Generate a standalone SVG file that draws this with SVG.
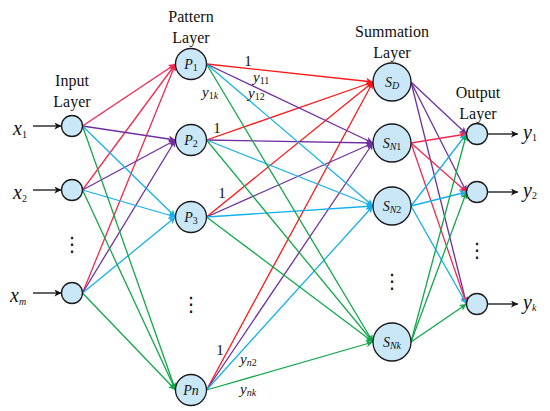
<svg xmlns="http://www.w3.org/2000/svg" width="550" height="411" viewBox="0 0 550 411">
<defs>
<style>
.n{fill:#c9e7f7;stroke:#1a1a1a;stroke-width:1.3}
text{font-family:'Liberation Serif','Times New Roman','DejaVu Serif',serif;fill:#111}
.lay{font-size:16px;text-anchor:middle}
.lab{font-size:14px;font-style:italic;text-anchor:middle}
.sub{font-size:10px;font-style:normal}
.subi{font-size:10px;font-style:italic}
.w{font-size:15px}
.io{font-size:20px;font-style:italic}
text.dots{font-family:'DejaVu Sans',sans-serif;font-size:20px;text-anchor:middle}
.c line{stroke-width:1.3;fill:none}
.pk{stroke:#f2294f}
.rd{stroke:#ff1616}
.pu{stroke:#7030a0}
.cy{stroke:#14b0ec}
.gr{stroke:#12a84a}
.bk{stroke:#111}
</style>
<marker id="mpk" viewBox="0 0 10 10" refX="10" refY="5" markerWidth="9" markerHeight="7" markerUnits="userSpaceOnUse" orient="auto"><path d="M0,0L10,5L0,10L2.5,5z" fill="#f2294f"/></marker>
<marker id="mrd" viewBox="0 0 10 10" refX="10" refY="5" markerWidth="9" markerHeight="7" markerUnits="userSpaceOnUse" orient="auto"><path d="M0,0L10,5L0,10L2.5,5z" fill="#ff1616"/></marker>
<marker id="mpu" viewBox="0 0 10 10" refX="10" refY="5" markerWidth="9" markerHeight="7" markerUnits="userSpaceOnUse" orient="auto"><path d="M0,0L10,5L0,10L2.5,5z" fill="#7030a0"/></marker>
<marker id="mcy" viewBox="0 0 10 10" refX="10" refY="5" markerWidth="9" markerHeight="7" markerUnits="userSpaceOnUse" orient="auto"><path d="M0,0L10,5L0,10L2.5,5z" fill="#14b0ec"/></marker>
<marker id="mgr" viewBox="0 0 10 10" refX="10" refY="5" markerWidth="9" markerHeight="7" markerUnits="userSpaceOnUse" orient="auto"><path d="M0,0L10,5L0,10L2.5,5z" fill="#12a84a"/></marker>
<marker id="mbk" viewBox="0 0 10 10" refX="10" refY="5" markerWidth="10" markerHeight="7" markerUnits="userSpaceOnUse" orient="auto"><path d="M0,0L10,5L0,10L2.5,5z" fill="#111"/></marker>
</defs>
<rect width="550" height="411" fill="#fff"/>

<g id="connectors" class="c">
<line class="bk" x1="33" y1="126" x2="61.5" y2="126" marker-end="url(#mbk)"/>
<line class="bk" x1="33" y1="190" x2="61.5" y2="190" marker-end="url(#mbk)"/>
<line class="bk" x1="33" y1="293" x2="61.5" y2="293" marker-end="url(#mbk)"/>
<line class="pk" x1="82.5" y1="126" x2="175.5" y2="64" marker-end="url(#mpk)"/>
<line class="pk" x1="82.5" y1="190" x2="175.5" y2="64" marker-end="url(#mpk)"/>
<line class="pk" x1="82.5" y1="293" x2="175.5" y2="64" marker-end="url(#mpk)"/>
<line class="pu" x1="82.5" y1="126" x2="175.5" y2="140" marker-end="url(#mpu)"/>
<line class="pu" x1="82.5" y1="190" x2="175.5" y2="140" marker-end="url(#mpu)"/>
<line class="pu" x1="82.5" y1="293" x2="175.5" y2="140" marker-end="url(#mpu)"/>
<line class="cy" x1="82.5" y1="126" x2="175.5" y2="217" marker-end="url(#mcy)"/>
<line class="cy" x1="82.5" y1="190" x2="175.5" y2="217" marker-end="url(#mcy)"/>
<line class="cy" x1="82.5" y1="293" x2="175.5" y2="217" marker-end="url(#mcy)"/>
<line class="gr" x1="82.5" y1="126" x2="175.5" y2="390" marker-end="url(#mgr)"/>
<line class="gr" x1="82.5" y1="190" x2="175.5" y2="390" marker-end="url(#mgr)"/>
<line class="gr" x1="82.5" y1="293" x2="175.5" y2="390" marker-end="url(#mgr)"/>
<line class="rd" x1="206.5" y1="64" x2="373" y2="82" marker-end="url(#mrd)"/>
<line class="rd" x1="206.5" y1="140" x2="373" y2="82" marker-end="url(#mrd)"/>
<line class="rd" x1="206.5" y1="217" x2="373" y2="82" marker-end="url(#mrd)"/>
<line class="rd" x1="206.5" y1="390" x2="373" y2="82" marker-end="url(#mrd)"/>
<line class="pu" x1="206.5" y1="64" x2="373" y2="143" marker-end="url(#mpu)"/>
<line class="pu" x1="206.5" y1="140" x2="373" y2="143" marker-end="url(#mpu)"/>
<line class="pu" x1="206.5" y1="217" x2="373" y2="143" marker-end="url(#mpu)"/>
<line class="pu" x1="206.5" y1="390" x2="373" y2="143" marker-end="url(#mpu)"/>
<line class="cy" x1="206.5" y1="64" x2="373" y2="206" marker-end="url(#mcy)"/>
<line class="cy" x1="206.5" y1="140" x2="373" y2="206" marker-end="url(#mcy)"/>
<line class="cy" x1="206.5" y1="217" x2="373" y2="206" marker-end="url(#mcy)"/>
<line class="cy" x1="206.5" y1="390" x2="373" y2="206" marker-end="url(#mcy)"/>
<line class="gr" x1="206.5" y1="64" x2="373" y2="342" marker-end="url(#mgr)"/>
<line class="gr" x1="206.5" y1="140" x2="373" y2="342" marker-end="url(#mgr)"/>
<line class="gr" x1="206.5" y1="217" x2="373" y2="342" marker-end="url(#mgr)"/>
<line class="gr" x1="206.5" y1="390" x2="373" y2="342" marker-end="url(#mgr)"/>
<line class="pu" x1="411" y1="82" x2="466.5" y2="134" marker-end="url(#mpu)"/>
<line class="pu" x1="411" y1="82" x2="466.5" y2="192" marker-end="url(#mpu)"/>
<line class="pu" x1="411" y1="82" x2="466.5" y2="304" marker-end="url(#mpu)"/>
<line class="pk" x1="411" y1="143" x2="466.5" y2="134" marker-end="url(#mpk)"/>
<line class="pk" x1="411" y1="143" x2="466.5" y2="192" marker-end="url(#mpk)"/>
<line class="pk" x1="411" y1="143" x2="466.5" y2="304" marker-end="url(#mpk)"/>
<line class="cy" x1="411" y1="206" x2="466.5" y2="134" marker-end="url(#mcy)"/>
<line class="cy" x1="411" y1="206" x2="466.5" y2="192" marker-end="url(#mcy)"/>
<line class="cy" x1="411" y1="206" x2="466.5" y2="304" marker-end="url(#mcy)"/>
<line class="gr" x1="411" y1="342" x2="466.5" y2="134" marker-end="url(#mgr)"/>
<line class="gr" x1="411" y1="342" x2="466.5" y2="192" marker-end="url(#mgr)"/>
<line class="gr" x1="411" y1="342" x2="466.5" y2="304" marker-end="url(#mgr)"/>
<line class="bk" x1="488" y1="134" x2="518" y2="134" marker-end="url(#mbk)"/>
<line class="bk" x1="488" y1="192" x2="518" y2="192" marker-end="url(#mbk)"/>
<line class="bk" x1="488" y1="304" x2="518" y2="304" marker-end="url(#mbk)"/>
</g>

<g id="connector-labels">
<text class="w" x="248" y="66" text-anchor="middle">1</text>
<text class="w" x="217" y="133" text-anchor="middle">1</text>
<text class="w" x="222" y="198" text-anchor="middle">1</text>
<text class="w" x="220" y="355" text-anchor="middle">1</text>
<text class="w" x="253" y="82"><tspan font-style="italic">y</tspan><tspan class="sub" dy="2">11</tspan></text>
<text class="w" x="248" y="98"><tspan font-style="italic">y</tspan><tspan class="sub" dy="2">12</tspan></text>
<text class="w" x="202" y="97"><tspan font-style="italic">y</tspan><tspan class="sub" dy="2">1</tspan><tspan class="subi">k</tspan></text>
<text class="w" x="240" y="364"><tspan font-style="italic">y</tspan><tspan class="subi" dy="2">n</tspan><tspan class="sub">2</tspan></text>
<text class="w" x="240" y="394"><tspan font-style="italic">y</tspan><tspan class="subi" dy="2">nk</tspan></text>
</g>

<g id="layer-labels">
<text class="lay" x="72" y="86">Input</text><text class="lay" x="72" y="107">Layer</text>
<text class="lay" x="191" y="22">Pattern</text><text class="lay" x="191" y="43">Layer</text>
<text class="lay" x="392" y="37">Summation</text><text class="lay" x="392" y="58">Layer</text>
<text class="lay" x="478" y="98">Output</text><text class="lay" x="478" y="119">Layer</text>
</g>

<g id="input-nodes">
<g id="x1"><text class="io" x="13" y="135">x<tspan class="sub" font-size="13px" dy="3">1</tspan></text><circle class="n" cx="72" cy="126" r="10.5"/></g>
<g id="x2"><text class="io" x="13" y="199">x<tspan class="sub" font-size="13px" dy="3">2</tspan></text><circle class="n" cx="72" cy="190" r="10.5"/></g>
<g id="xm"><text class="io" x="10" y="302">x<tspan class="subi" font-size="13px" dy="3">m</tspan></text><circle class="n" cx="72" cy="293" r="10.5"/></g>
<text class="dots" x="72" y="251">⋮</text>
</g>

<g id="pattern-nodes">
<g id="P1"><circle class="n" cx="191" cy="64" r="15.5"/><text class="lab" x="191" y="69">P<tspan class="sub" dy="2">1</tspan></text></g>
<g id="P2"><circle class="n" cx="191" cy="140" r="15.5"/><text class="lab" x="191" y="145">P<tspan class="sub" dy="2">2</tspan></text></g>
<g id="P3"><circle class="n" cx="191" cy="217" r="15.5"/><text class="lab" x="191" y="222">P<tspan class="sub" dy="2">3</tspan></text></g>
<g id="Pn"><circle class="n" cx="191" cy="390" r="15.5"/><text class="lab" x="191" y="395">Pn</text></g>
<text class="dots" x="191" y="311">⋮</text>
</g>

<g id="summation-nodes">
<g id="SD"><circle class="n" cx="392" cy="82" r="19"/><text class="lab" x="392" y="87">S<tspan class="subi" dy="2">D</tspan></text></g>
<g id="SN1"><circle class="n" cx="392" cy="143" r="19"/><text class="lab" x="392" y="148">S<tspan class="subi" dy="2">N</tspan><tspan class="sub">1</tspan></text></g>
<g id="SN2"><circle class="n" cx="392" cy="206" r="19"/><text class="lab" x="392" y="211">S<tspan class="subi" dy="2">N</tspan><tspan class="sub">2</tspan></text></g>
<g id="SNk"><circle class="n" cx="392" cy="342" r="19"/><text class="lab" x="392" y="347">S<tspan class="subi" dy="2">Nk</tspan></text></g>
<text class="dots" x="392" y="288">⋮</text>
</g>

<g id="output-nodes">
<g id="y1"><circle class="n" cx="477" cy="134" r="10.5"/><text class="io" x="523" y="139">y<tspan class="sub" font-size="13px" dy="2">1</tspan></text></g>
<g id="y2"><circle class="n" cx="477" cy="192" r="10.5"/><text class="io" x="523" y="197">y<tspan class="sub" font-size="13px" dy="2">2</tspan></text></g>
<g id="yk"><circle class="n" cx="477" cy="304" r="10.5"/><text class="io" x="523" y="309">y<tspan class="subi" font-size="13px" dy="2">k</tspan></text></g>
<text class="dots" x="477" y="257">⋮</text>
</g>
</svg>
